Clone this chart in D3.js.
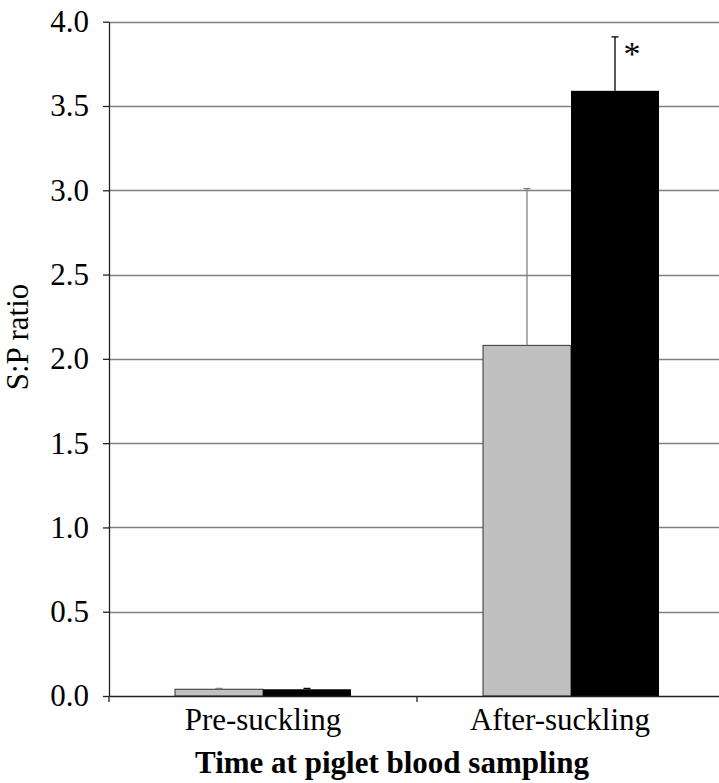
<!DOCTYPE html>
<html>
<head>
<meta charset="utf-8">
<script src="https://cdn.jsdelivr.net/npm/d3@7"></script>
<style>
  html, body { margin: 0; padding: 0; background: #fff; }
  svg { display: block; }
</style>
</head>
<body>
<svg id="chart" width="719" height="783"></svg>
<script>
// Sampling times (x categories)
const categories = ["Pre-suckling", "After-suckling"];
// Two groups per time point
const seriesKeys = ["seriesA", "seriesB"];
const seriesAValues = [0.04, 2.08];
const seriesBValues = [0.04, 3.59];
const seriesAErrors = [0.005, 0.93];
const seriesBErrors = [0.005, 0.32];
// Significance marks placed above the error bar of the second group
const seriesBMarks = ["", "*"];
const yTicks = [0, 0.5, 1, 1.5, 2, 2.5, 3, 3.5, 4];
const yTitle = "S:P ratio";
const xTitle = "Time at piglet blood sampling";

const serif = "'Liberation Serif', 'Times New Roman', serif";
const fills = { seriesA: "#c0c0c0", seriesB: "#000000" };
const errColors = { seriesA: "#808080", seriesB: "#000000" };

const rows = categories.map((c, i) => ({
  category: c,
  values: [
    { key: "seriesA", value: seriesAValues[i], err: seriesAErrors[i], mark: "" },
    { key: "seriesB", value: seriesBValues[i], err: seriesBErrors[i], mark: seriesBMarks[i] }
  ]
}));

const svg = d3.select("#chart");
const plotLeft = 109, plotRight = 725, plotTop = 21.7, plotBottom = 696;
const width = +svg.attr("width");

const x0 = d3.scaleBand().domain(categories).range([plotLeft, plotRight]).paddingInner(0).paddingOuter(0);
const x1 = d3.scaleBand().domain(seriesKeys).range([0, x0.bandwidth()]).paddingInner(0).paddingOuter(0.75);
const y = d3.scaleLinear().domain([0, 4]).range([plotBottom, plotTop]);

// Horizontal gridlines
svg.append("g")
  .selectAll("line")
  .data(yTicks.filter(d => d > 0))
  .join("line")
  .attr("x1", plotLeft).attr("x2", width)
  .attr("y1", d => Math.round(y(d)) + 0.5).attr("y2", d => Math.round(y(d)) + 0.5)
  .attr("stroke", "#808080").attr("stroke-width", 1.3);

// Bars
const groups = svg.append("g")
  .selectAll("g")
  .data(rows)
  .join("g")
  .attr("transform", d => `translate(${x0(d.category)},0)`);

groups.selectAll("rect")
  .data(d => d.values)
  .join("rect")
  .attr("x", d => x1(d.key))
  .attr("y", d => y(d.value))
  .attr("width", x1.bandwidth())
  .attr("height", d => y(0) - y(d.value))
  .attr("fill", d => fills[d.key])
  .attr("stroke", d => d.key === "seriesA" ? "#333" : "none")
  .attr("stroke-width", 1);

// Upper error bars
const eb = groups.selectAll("g.err")
  .data(d => d.values)
  .join("g")
  .attr("class", "err")
  .attr("transform", d => `translate(${x1(d.key) + x1.bandwidth() / 2},0)`);

eb.append("line")
  .attr("x1", 0).attr("x2", 0)
  .attr("y1", d => y(d.value)).attr("y2", d => y(d.value + d.err))
  .attr("stroke", d => errColors[d.key]).attr("stroke-width", 1.3);
eb.append("line")
  .attr("x1", -3.5).attr("x2", 3.5)
  .attr("y1", d => y(d.value + d.err)).attr("y2", d => y(d.value + d.err))
  .attr("stroke", d => errColors[d.key]).attr("stroke-width", 1.3);

eb.filter(d => d.mark)
  .append("text")
  .attr("x", 17)
  .attr("y", d => y(d.value + d.err) + 28)
  .attr("text-anchor", "middle")
  .style("font-family", serif)
  .style("font-size", "34px")
  .text(d => d.mark);

// Y axis
const yAxis = d3.axisLeft(y)
  .tickValues(yTicks)
  .tickFormat(d3.format(".1f"))
  .tickSize(6)
  .tickSizeOuter(0);
const gy = svg.append("g").attr("transform", `translate(${plotLeft},0)`).call(yAxis);
gy.attr("font-family", null);
gy.select(".domain").attr("stroke", "#222").attr("stroke-width", 1.3);
gy.selectAll(".tick line").attr("stroke", "#222").attr("stroke-width", 1.3);
gy.selectAll(".tick text")
  .attr("x", -20)
  .attr("fill", "#000")
  .style("font-family", serif)
  .style("font-size", "31px");

// X axis
const xAxis = d3.axisBottom(x0).tickSize(0).tickSizeOuter(0);
const gx = svg.append("g").attr("transform", `translate(0,${plotBottom})`).call(xAxis);
gx.attr("font-family", null);
gx.select(".domain").attr("stroke", "#222").attr("stroke-width", 1.3);
gx.selectAll(".tick text")
  .attr("y", 12)
  .attr("dy", "0.71em")
  .attr("fill", "#000")
  .style("font-family", serif)
  .style("font-size", "31px");
// The last category's label is nudged left to keep clear of the right edge
gx.selectAll(".tick text").filter((d, i, n) => i === n.length - 1).attr("dx", -11);
// Category boundary ticks
gx.selectAll("line.sep")
  .data(categories)
  .join("line")
  .attr("class", "sep")
  .attr("x1", d => x0(d)).attr("x2", d => x0(d))
  .attr("y1", 0).attr("y2", 6)
  .attr("stroke", "#222").attr("stroke-width", 1.3);

// Axis titles
svg.append("text")
  .attr("transform", "translate(28,337) rotate(-90)")
  .attr("text-anchor", "middle")
  .style("font-family", serif)
  .style("font-size", "31px")
  .text(yTitle);

svg.append("text")
  .attr("x", 392)
  .attr("y", 773)
  .attr("text-anchor", "middle")
  .style("font-family", serif)
  .style("font-size", "31px")
  .style("font-weight", "bold")
  .text(xTitle);
</script>
</body>
</html>
